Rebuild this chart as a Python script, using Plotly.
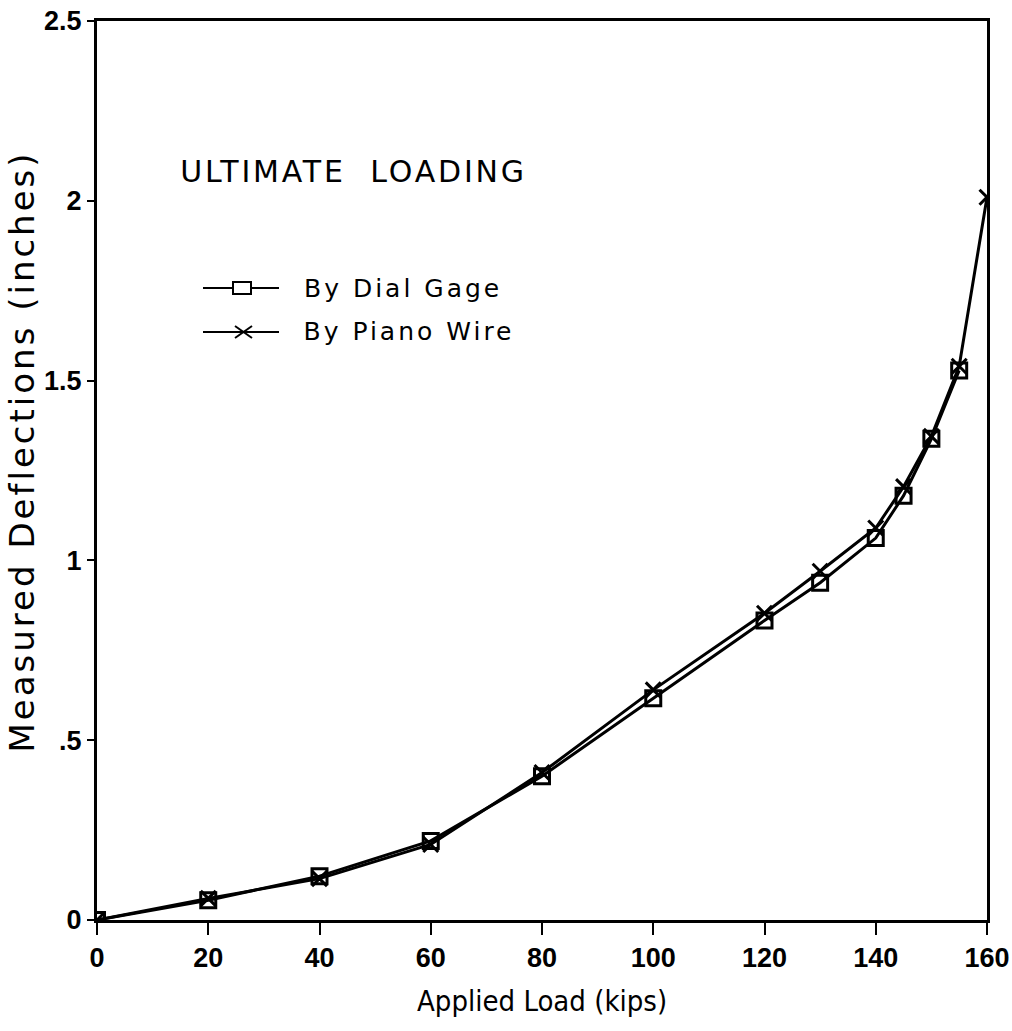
import plotly.graph_objects as go

# Applied load (kips) and measured deflections (inches)
load_dial = [0, 20, 40, 60, 80, 100, 120, 130, 140, 145, 150, 155]
defl_dial = [0.0, 0.055, 0.122, 0.22, 0.40, 0.617, 0.833, 0.938, 1.062, 1.18, 1.338, 1.528]

load_wire = [0, 20, 40, 60, 80, 100, 120, 130, 140, 145, 150, 155, 160]
defl_wire = [0.0, 0.06, 0.115, 0.21, 0.41, 0.64, 0.853, 0.97, 1.09, 1.205, 1.345, 1.54, 2.01]

x_ticks = [0, 20, 40, 60, 80, 100, 120, 140, 160]
y_ticks = [0, 0.5, 1, 1.5, 2, 2.5]
y_tick_text = ["0", ".5", "1", "1.5", "2", "2.5"]

series_names = ["By Dial Gage", "By Piano Wire"]

W, H = 1012, 1031
L, R, T, B = 97, 25, 21, 111
PW, PH = W - L - R, H - T - B


def px(x):
    """pixel column -> paper x"""
    return (x - L) / PW


def py(y):
    """pixel row -> paper y"""
    return (H - B - y) / PH


tick_font = dict(family="Liberation Sans", size=27, color="black", weight="bold")
sans = "DejaVu Sans"

fig = go.Figure()
fig.add_trace(go.Scatter(
    x=load_dial, y=defl_dial, mode="lines+markers", name=series_names[0],
    line=dict(color="black", width=3),
    marker=dict(symbol="square-open", size=15, color="black", line=dict(width=3)),
))
fig.add_trace(go.Scatter(
    x=load_wire, y=defl_wire, mode="lines+markers", name=series_names[1],
    line=dict(color="black", width=3),
    marker=dict(symbol="x-thin-open", size=15, color="black", line=dict(width=3, color="black")),
))

# hand-drawn key: sample line, glyph, label
shapes = []
annotations = []
key_rows = [(288, "square", 403), (332, "x", 409)]
for (yk, glyph, xc), name in zip(key_rows, series_names):
    shapes.append(dict(type="line", xref="paper", yref="paper",
                       x0=px(203), x1=px(279), y0=py(yk), y1=py(yk),
                       line=dict(color="black", width=2)))
    if glyph == "square":
        shapes.append(dict(type="rect", xref="paper", yref="paper",
                           x0=px(233), x1=px(251), y0=py(yk - 6), y1=py(yk + 6),
                           line=dict(color="black", width=2), fillcolor="white"))
    else:
        shapes.append(dict(type="line", xref="paper", yref="paper",
                           x0=px(235), x1=px(252), y0=py(yk - 6), y1=py(yk + 6),
                           line=dict(color="black", width=2)))
        shapes.append(dict(type="line", xref="paper", yref="paper",
                           x0=px(235), x1=px(252), y0=py(yk + 6), y1=py(yk - 6),
                           line=dict(color="black", width=2)))
    annotations.append(dict(text=name, xref="paper", yref="paper",
                            x=px(xc), y=py(yk), xanchor="center", yanchor="middle",
                            showarrow=False, font=dict(family=sans, size=25, color="black")))

annotations.append(dict(text="ULTIMATE  LOADING", xref="paper", yref="paper",
                        x=px(353), y=py(171), xanchor="center", yanchor="middle",
                        showarrow=False, font=dict(family=sans, size=30, color="black")))
annotations.append(dict(text="Measured Deflections (inches)", xref="paper", yref="paper",
                        x=px(22), y=py(452), xanchor="center", yanchor="middle",
                        textangle=-90, showarrow=False,
                        font=dict(family=sans, size=34, color="black")))
annotations.append(dict(text="Applied Load (kips)", xref="paper", yref="paper",
                        x=px(542), y=py(1001), xanchor="center", yanchor="middle",
                        showarrow=False,
                        font=dict(family="DejaVu Sans Condensed", size=29, color="black")))

fig.update_layout(
    width=W, height=H,
    margin=dict(l=L, r=R, t=T, b=B, autoexpand=False),
    paper_bgcolor="white", plot_bgcolor="white",
    showlegend=False,
    shapes=shapes,
    annotations=annotations,
)

fig.update_xaxes(
    range=[0, 160], tickvals=x_ticks,
    ticks="outside", ticklen=12, tickwidth=2, tickcolor="black",
    showline=True, linecolor="black", linewidth=3, mirror=True,
    showgrid=False, zeroline=False, tickfont=tick_font,
    automargin=False, ticklabeloverflow="allow",
)
fig.update_yaxes(
    range=[0, 2.5], tickvals=y_ticks, ticktext=y_tick_text,
    ticks="outside", ticklen=7, tickwidth=2, tickcolor="black",
    showline=True, linecolor="black", linewidth=3, mirror=True,
    showgrid=False, zeroline=False, tickfont=tick_font,
    automargin=False, ticklabeloverflow="allow",
)

# widen the letter spacing of the key labels, heading and vertical title
spacing_js = """
var gd = document.getElementById('{plot_id}');
function spaceOut() {
  var gaps = {'0': '3px', '1': '3px', '2': '2.8px', '3': '3px'};
  gd.querySelectorAll('g.annotation').forEach(function (g) {
    var i = g.getAttribute('data-index');
    if (gaps[i]) {
      var t = g.querySelector('text.annotation-text');
      if (t) { t.style.letterSpacing = gaps[i]; }
    }
  });
}
spaceOut();
if (gd.on) { gd.on('plotly_afterplot', spaceOut); }
"""

fig.write_html("out.html", post_script=spacing_js)
